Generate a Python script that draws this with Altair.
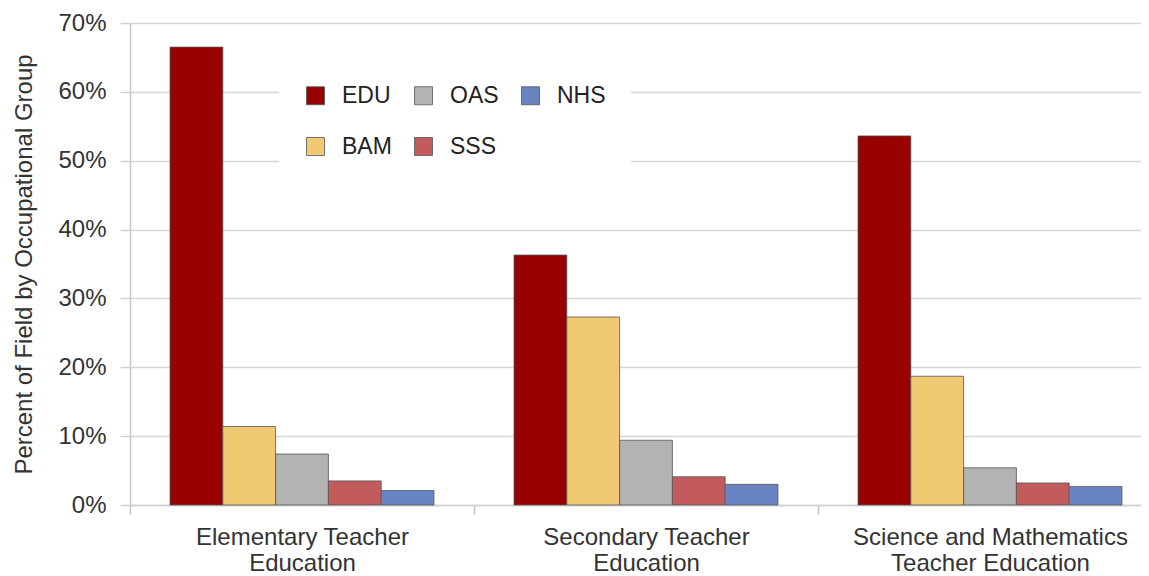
import altair as alt
import pandas as pd

categories = ["Elementary Teacher\nEducation", "Secondary Teacher\nEducation",
              "Science and Mathematics\nTeacher Education"]
series = ["EDU", "BAM", "OAS", "SSS", "NHS"]
colors = ["#990000", "#F1C972", "#B3B3B3", "#C25B5C", "#6685C2"]

edu = [66.5, 36.3, 53.6]
bam = [11.4, 27.3, 18.7]
oas = [7.4, 9.4, 5.4]
sss = [3.5, 4.1, 3.2]
nhs = [2.1, 3.0, 2.7]
y_ticks = [0, 10, 20, 30, 40, 50, 60, 70]

vals = {"EDU": edu, "BAM": bam, "OAS": oas, "SSS": sss, "NHS": nhs}
rows = []
for s in series:
    for c, v in zip(categories, vals[s]):
        rows.append({"category": c, "series": s, "value": v})
df = pd.DataFrame(rows)

FONT = "Liberation Sans"

chart = alt.Chart(df).mark_bar(stroke="#555555", strokeWidth=0.8).encode(
    x=alt.X("category:N", sort=categories, title=None,
            scale=alt.Scale(paddingInner=0, paddingOuter=0, range=[0, 1032]),
            axis=alt.Axis(labelAngle=0, labelExpr="split(datum.label, '\\n')",
                          tickBand="extent", tickSize=9, tickColor="#c4c4c4", tickWidth=1.5,
                          domainColor="#cfcfcf", domainWidth=1.5,
                          labelFontSize=24, labelLineHeight=26, labelPadding=11,
                          labelColor="#333333", labelFont=FONT, labelLimit=400,
                          labelBaseline="top")),
    xOffset=alt.XOffset("series:N", sort=series,
                        scale=alt.Scale(paddingInner=0, paddingOuter=0.758)),
    y=alt.Y("value:Q", scale=alt.Scale(domain=[0, 70], nice=False),
            axis=alt.Axis(values=y_ticks, labelExpr="datum.value + '%'",
                          title="Percent of Field by Occupational Group",
                          tickSize=10, tickColor="#d0d0d0", tickWidth=1.5,
                          domainColor="#c8c8c8", domainWidth=1.5,
                          gridColor="#d6d6d6", gridWidth=1.5,
                          labelFontSize=24, labelPadding=14, labelColor="#333333",
                          labelFont=FONT, titleFont=FONT, titleFontSize=24,
                          titleFontWeight="normal", titleColor="#333333",
                          titlePadding=21)),
    color=alt.Color("series:N", scale=alt.Scale(domain=series, range=colors),
                    legend=alt.Legend(orient="none", legendX=149, legendY=36,
                                      columns=3, values=series, title=None,
                                      symbolType="square", symbolSize=324,
                                      symbolStrokeColor="#555555", symbolStrokeWidth=0.8,
                                      symbolOpacity=1,
                                      labelFontSize=23, labelFont=FONT, labelColor="#222222",
                                      labelOffset=15, columnPadding=20, rowPadding=27,
                                      padding=25, fillColor="white")),
).properties(
    width=1011, height=482,
    autosize=alt.AutoSizeParams(type="none"),
    padding={"left": 122, "top": 15, "right": 0, "bottom": 70},
).configure_view(stroke=None).configure(font=FONT)

chart.save("out.html", embed_options={"renderer": "svg", "actions": False})
